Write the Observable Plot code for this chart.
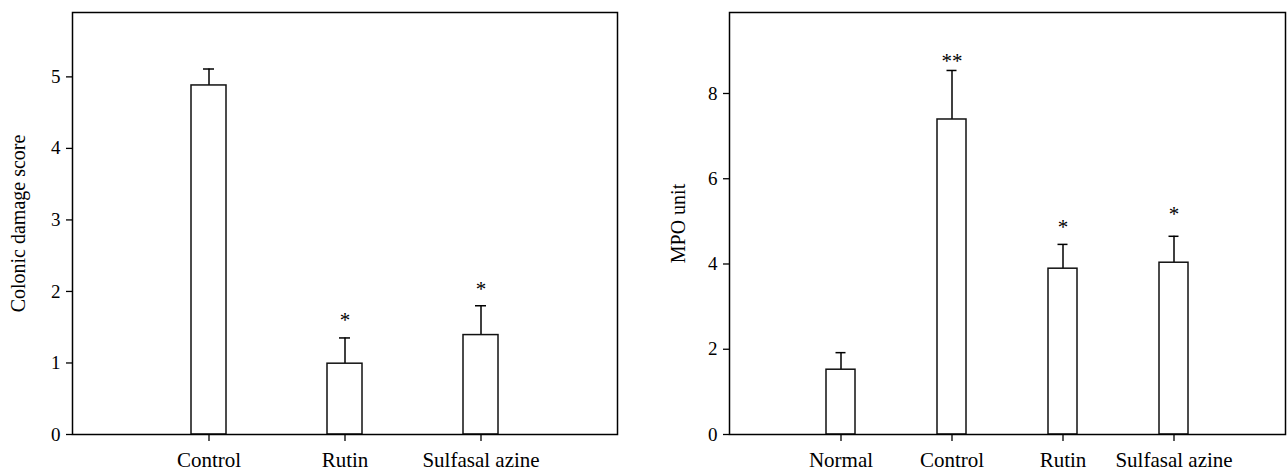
<!DOCTYPE html>
<html>
<head>
<meta charset="utf-8">
<script src="https://cdn.jsdelivr.net/npm/d3@7"></script>
<script src="https://cdn.jsdelivr.net/npm/@observablehq/plot@0.6"></script>
<style>
  html, body { margin: 0; padding: 0; background: #fff; }
  #wrap { display: flex; width: 1288px; height: 472px; }
  svg { font-family: "Liberation Serif", "Times New Roman", serif; }
</style>
</head>
<body>
<div id="wrap"></div>
<script>
// Panel A: colonic damage score
const groupsA = ["Control", "Rutin", "Sulfasal azine"];
const meanA = [4.88, 0.99, 1.39];
const errA = [0.23, 0.36, 0.41];
const starA = ["", "*", "*"];
const starLevelA = [null, 1.67, 2.1];
const ticksA = [0, 1, 2, 3, 4, 5];

// Panel B: MPO unit
const groupsB = ["Normal", "Control", "Rutin", "Sulfasal azine"];
const meanB = [1.52, 7.39, 3.89, 4.03];
const errB = [0.40, 1.15, 0.57, 0.62];
const starB = ["", "**", "*", "*"];
const starLevelB = [null, 8.88, 4.98, 5.28];
const ticksB = [0, 2, 4, 6, 8];

function panel({groups, mean, err, star, starLevel, ticks, yMax, label, width, marginLeft, marginRight, capInset}) {
  const data = groups.map((g, i) => ({g, m: mean[i], top: mean[i] + err[i], s: star[i], sl: starLevel[i]}));
  const stars = data.filter(d => d.s);
  return Plot.plot({
    width, height: 472,
    marginLeft, marginRight, marginTop: 12, marginBottom: 38,
    style: {fontFamily: '"Liberation Serif", "Times New Roman", serif', background: "#fff", color: "#000"},
    x: {type: "band", domain: groups, paddingInner: 0.743, paddingOuter: 0.872},
    y: {domain: [0, yMax]},
    marks: [
      Plot.ruleX(data, {x: "g", y1: "m", y2: "top", stroke: "#000", strokeWidth: 1.5}),
      Plot.tickY(data, {x: "g", y: "top", stroke: "#000", strokeWidth: 1.5, insetLeft: capInset, insetRight: capInset}),
      Plot.barY(data, {x: "g", y: "m", fill: "#fff", stroke: "#111", strokeWidth: 1.5}),
      Plot.text(stars, {x: "g", y: "sl", text: "s", fontSize: 21, lineAnchor: "middle", dy: 5, fill: "#000"}),
      Plot.frame({stroke: "#000", strokeWidth: 1.5}),
      Plot.axisY({ticks, tickFormat: "d", tickSize: 6, tickPadding: 6, fontSize: 19, label: null, stroke: "#000", strokeWidth: 1.3}),
      Plot.axisX({tickSize: 7, tickPadding: 11, fontSize: 21, label: null, stroke: "#000", strokeWidth: 1.3}),
      Plot.text([label], {frameAnchor: "left", rotate: -90, dx: -(marginLeft - 18), fontSize: 20, lineAnchor: "middle", textAnchor: "middle", fill: "#000"})
    ]
  });
}

const wrap = document.getElementById("wrap");
wrap.appendChild(panel({groups: groupsA, mean: meanA, err: errA, star: starA, starLevel: starLevelA, ticks: ticksA,
  yMax: 5.9, label: "Colonic damage score", width: 660, marginLeft: 72, marginRight: 43, capInset: 12}));
wrap.appendChild(panel({groups: groupsB, mean: meanB, err: errB, star: starB, starLevel: starLevelB, ticks: ticksB,
  yMax: 9.9, label: "MPO unit", width: 628, marginLeft: 69, marginRight: 3, capInset: 9.5}));
</script>
</body>
</html>
